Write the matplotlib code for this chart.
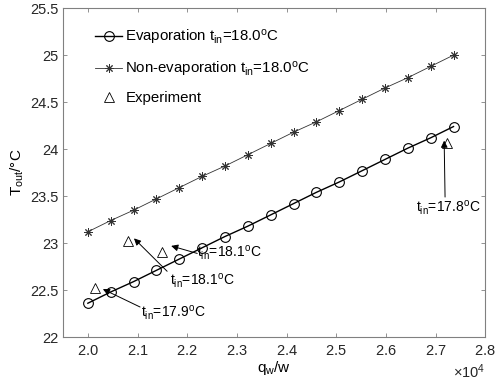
import matplotlib.pyplot as plt
from matplotlib.ticker import ScalarFormatter

plt.rcParams['font.family'] = ['Liberation Sans', 'DejaVu Sans']
plt.rcParams['mathtext.default'] = 'regular'

# data
q_w = [20000, 20460, 20920, 21380, 21840, 22300, 22760, 23220, 23680,
       24140, 24600, 25060, 25520, 25980, 26440, 26900, 27360]
t_evap = [22.36, 22.48, 22.59, 22.71, 22.83, 22.95, 23.07, 23.18, 23.30,
          23.42, 23.54, 23.65, 23.77, 23.89, 24.01, 24.12, 24.24]
t_nonevap = [23.12, 23.24, 23.35, 23.47, 23.59, 23.71, 23.82, 23.94, 24.06,
             24.18, 24.29, 24.41, 24.53, 24.65, 24.76, 24.88, 25.00]
q_exp = [20141, 20808, 21495, 27232]
t_exp = [22.52, 23.02, 22.91, 24.06]

# annotations: label, arrow head, arrow tail, text position
notes = [
    ('t$_{in}$=17.9$^{o}$C', (20303, 22.51), (21051, 22.32), (21071, 22.21)),
    ('t$_{in}$=18.1$^{o}$C', (20929, 23.05), (21596, 22.70), (21657, 22.55)),
    ('t$_{in}$=18.1$^{o}$C', (21677, 22.97), (22202, 22.89), (22202, 22.85)),
    ('t$_{in}$=17.8$^{o}$C', (27172, 24.09), (27190, 23.49), (26606, 23.33)),
]

fig = plt.figure(figsize=(4.98, 3.87), dpi=100)
ax = fig.add_axes([0.1265, 0.129, 0.848, 0.85])

ax.plot(q_w, t_evap, '-o', color='black', lw=1, ms=7, mfc='none', mew=0.8,
        label='Evaporation t$_{in}$=18.0$^{o}$C')
ax.plot(q_w, t_nonevap, '-', marker=(8, 2, 0), color='#333333', lw=0.6,
        ms=6, mew=0.7, label='Non-evaporation t$_{in}$=18.0$^{o}$C')
ax.plot(q_exp, t_exp, '^', color='black', ms=7, mfc='none', mew=0.6,
        label='Experiment')

for label, head, tail, pos in notes:
    ax.annotate('', xy=head, xytext=tail,
                arrowprops=dict(arrowstyle='-|>', color='black', lw=0.7,
                                mutation_scale=10, shrinkA=0, shrinkB=0))
    ax.text(pos[0], pos[1], label, fontsize=10, ha='left', va='baseline')

ax.set_xlim(19500, 28000)
ax.set_ylim(22, 25.5)
ax.set_xticks([20000 + 1000 * i for i in range(9)])
ax.set_yticks([22 + 0.5 * i for i in range(8)])
fmt = ScalarFormatter(useMathText=True)
fmt.set_powerlimits((0, 0))
ax.xaxis.set_major_formatter(fmt)
ax.set_yticklabels(['22', '22.5', '23', '23.5', '24', '24.5', '25', '25.5'])

ax.tick_params(direction='in', top=True, right=True, labelsize=10.5,
               color='#808080', length=3, width=0.6, labelcolor='#262626')
ax.tick_params(axis='x', pad=5)
for s in ax.spines.values():
    s.set_color('#808080')
    s.set_linewidth(0.8)
ax.xaxis.get_offset_text().set_fontsize(10.5)

ax.set_xlabel('q$_w$/w', fontsize=11, labelpad=1)
ax.set_ylabel('T$_{out}$/°C', fontsize=11, labelpad=3)

ax.legend(loc='upper left', bbox_to_anchor=(0.066, 0.954), frameon=False,
          fontsize=10.8, handlelength=1.8, handletextpad=0.2,
          borderaxespad=0, labelspacing=0.85, borderpad=0.3)

fig.savefig('out.png', dpi=100)
